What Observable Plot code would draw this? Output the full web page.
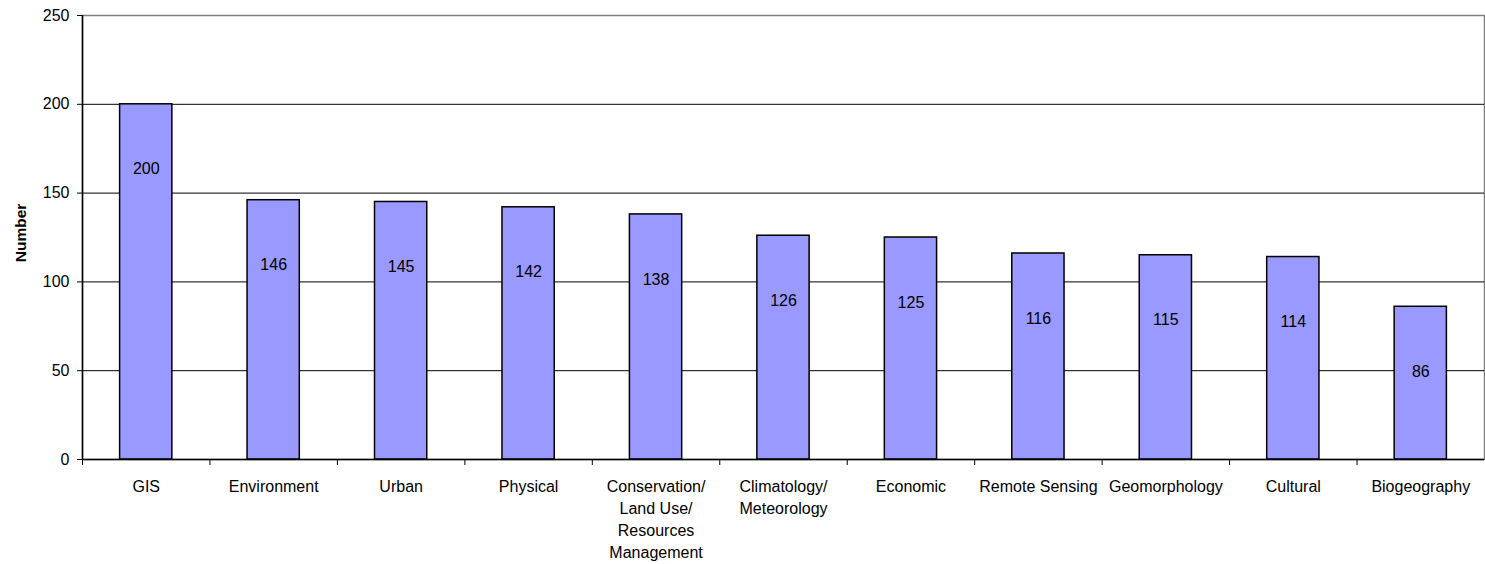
<!DOCTYPE html>
<html>
<head>
<meta charset="utf-8">
<script src="https://cdn.jsdelivr.net/npm/d3@7"></script>
<script src="https://cdn.jsdelivr.net/npm/@observablehq/plot@0.6"></script>
<style>
  html, body { margin: 0; padding: 0; background: #fff; }
  #chart svg { display: block; }
</style>
</head>
<body>
<div id="chart"></div>
<script>
const categories = ["GIS", "Environment", "Urban", "Physical", "Conservation/\nLand Use/\nResources\nManagement", "Climatology/\nMeteorology", "Economic", "Remote Sensing", "Geomorphology", "Cultural", "Biogeography"];
const values = [200, 146, 145, 142, 138, 126, 125, 116, 115, 114, 86];
const yTicks = [0, 50, 100, 150, 200, 250];
const yLabel = "Number";

const data = categories.map((c, i) => ({category: c, value: values[i]}));

const W = 1485, H = 564;
const mL = 82, mR = 1, mT = 15, mB = 105;
const step = (W - mL - mR) / categories.length;
const font = "'Liberation Sans', Arial, sans-serif";

const chart = Plot.plot({
  width: W,
  height: H,
  marginLeft: mL,
  marginRight: mR,
  marginTop: mT,
  marginBottom: mB,
  style: {fontFamily: font, fontSize: "16px", color: "#000", background: "#fff"},
  x: {domain: categories, paddingInner: 0.59, paddingOuter: 0.295, round: false, axis: null},
  y: {type: "linear", domain: [0, 250], axis: null},
  marks: [
    Plot.frame({stroke: "#808080", strokeWidth: 1.5}),
    Plot.gridY(yTicks.filter(d => d > 0 && d < 250), {stroke: "#000", strokeOpacity: 1, strokeWidth: 1}),
    Plot.barY(data, {x: "category", y: "value", fill: "#9999FF", stroke: "#000", strokeWidth: 1.5}),
    Plot.text(data, {x: "category", y: "value", text: d => String(d.value), dy: 65, fill: "#000", fontSize: 16, lineAnchor: "middle"}),
    Plot.ruleX([categories[0]], {x: d => d, y1: 0, y2: 250, dx: -step / 2, stroke: "#000", strokeWidth: 1.5}),
    Plot.axisY({ticks: yTicks, tickSize: 5, tickPadding: 8, fontSize: 16, stroke: "#000", label: null}),
    Plot.ruleY([0], {stroke: "#000", strokeWidth: 1.5}),
    Plot.ruleX(categories, {x: d => d, y1: 0, y2: 0, dx: -step / 2, stroke: "#000", insetBottom: -6}),
    Plot.text(categories, {x: d => d, frameAnchor: "bottom", lineAnchor: "top", dy: 17, lineHeight: 1.375, fontSize: 16, fill: "#000"}),
    Plot.text([yLabel], {frameAnchor: "left", textAnchor: "middle", dx: -61, dy: -4.5, rotate: -90, fontWeight: "bold", fontSize: 15.5, fill: "#000"})
  ]
});

document.getElementById("chart").appendChild(chart);
</script>
</body>
</html>
